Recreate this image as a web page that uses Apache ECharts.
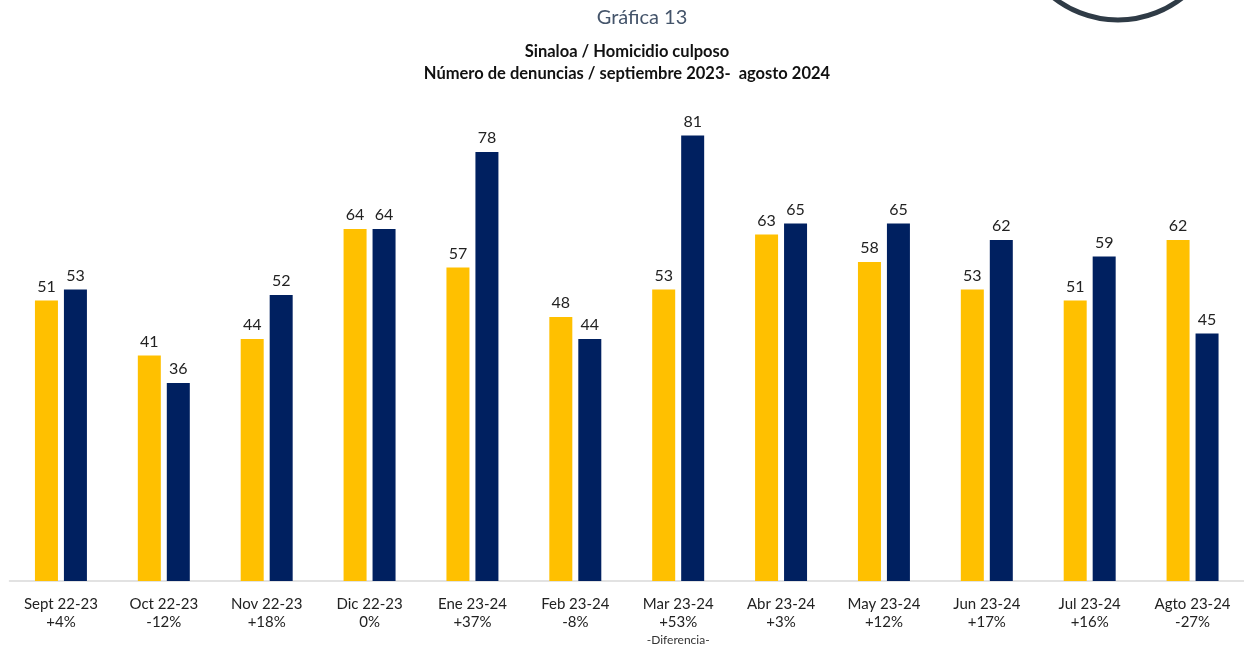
<!DOCTYPE html>
<html><head><meta charset="utf-8">
<script src="https://cdn.jsdelivr.net/npm/echarts@6/dist/echarts.min.js"></script>
<style>html,body{margin:0;padding:0;background:#fff}#c{width:1244px;height:650px}</style>
</head><body><div id="c"></div>
<script>
const categories = ['Sept 22-23','Oct 22-23','Nov 22-23','Dic 22-23','Ene 23-24','Feb 23-24','Mar 23-24','Abr 23-24','May 23-24','Jun 23-24','Jul 23-24','Agto 23-24'];
const changeLabels = ['+4%','-12%','+18%','0%','+37%','-8%','+53%','+3%','+12%','+17%','+16%','-27%'];
const prevYear = [51,41,44,64,57,48,53,63,58,53,51,62];
const currYear = [53,36,52,64,78,44,81,65,65,62,59,45];

const chart = echarts.init(document.getElementById('c'));
const font = 'Lato, "Open Sans", sans-serif';
chart.setOption({
  animation:false,
  textStyle:{fontFamily:font},
  title:[
    {text:'Gráfica 13',left:637,top:3,textAlign:'center',textStyle:{fontSize:20,fontWeight:'normal',color:'#44546a',fontFamily:font}},
    {text:'Sinaloa / Homicidio culposo\nNúmero de denuncias / septiembre 2023-  agosto 2024',left:622,top:36,textAlign:'center',
     textStyle:{fontSize:16.5,fontWeight:'bold',color:'#111',lineHeight:22,fontFamily:font}}
  ],
  graphic:[{type:'circle',shape:{cx:1118,cy:-84,r:104},style:{fill:'none',stroke:'#2f3b46',lineWidth:5}}],
  grid:{left:9.5,width:1237,top:31,height:550},
  xAxis:{type:'category',data:categories,
    axisLine:{lineStyle:{color:'#d9d9d9',width:1.5}},axisTick:{show:false},
    axisLabel:{interval:0,margin:14,color:'#222',fontSize:15,lineHeight:18,
      formatter:(v,i)=>{let s=v+'\n'+changeLabels[i]; if(i===6) s+='\n{s|-Diferencia-}'; return s;},
      rich:{s:{fontSize:12,color:'#333',lineHeight:18}}}},
  yAxis:{type:'value',min:0,max:100,show:false,splitLine:{show:false}},
  series:[
    {type:'bar',data:prevYear,barWidth:23,barGap:'26%',itemStyle:{color:'#FFC000'},
     label:{show:true,position:'top',distance:6,color:'#222',fontSize:16,fontFamily:font}},
    {type:'bar',data:currYear,barWidth:23,itemStyle:{color:'#002060'},
     label:{show:true,position:'top',distance:6,color:'#222',fontSize:16,fontFamily:font}}
  ]
});
</script></body></html>
